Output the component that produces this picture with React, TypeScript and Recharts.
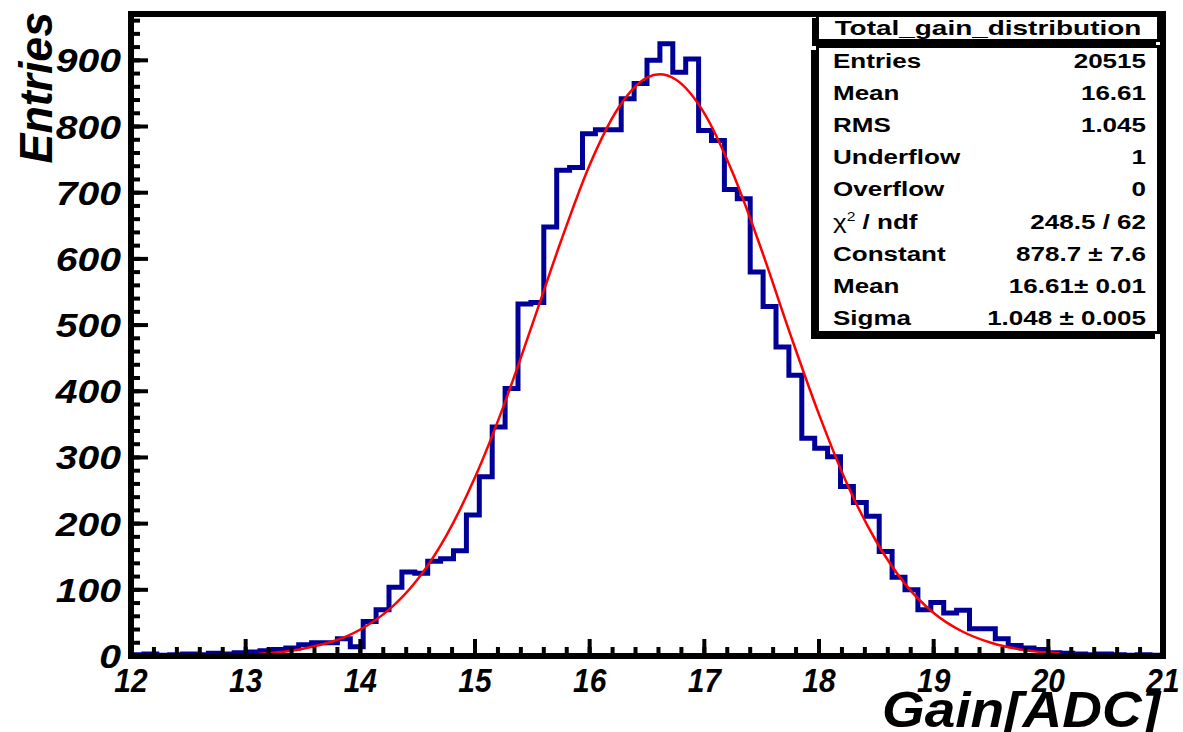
import { ComposedChart, Line, XAxis, YAxis, ReferenceLine } from "recharts";

// Gain histogram (80 bins, 12..21) with Gaussian fit, ROOT-style frame.

const X_MIN = 12;
const X_MAX = 21;
const Y_MAX = 970;
const BIN_WIDTH = 0.1125;

const binCounts = [
  2, 3, 1, 2, 3, 2, 4, 3, 5, 6,
  8, 10, 12, 17, 20, 20, 26, 14, 52, 70,
  104, 127, 125, 143, 147, 159, 213, 271, 346, 404,
  532, 534, 648, 734, 738, 789, 795, 795, 842, 865,
  900, 925, 882, 902, 794, 779, 705, 691, 580, 528,
  467, 424, 329, 314, 301, 256, 232, 211, 158, 119,
  100, 70, 81, 65, 69, 41, 41, 26, 16, 12,
  10, 5, 4, 3, 2, 3, 2, 1, 2, 1,
];

// red fit curve
const fitX = [13.1, 13.5, 14, 14.25, 14.5, 14.75, 15, 15.25, 15.5, 15.75, 16, 16.25, 16.5, 16.61, 16.75, 17, 17.25, 17.5, 17.75, 18, 18.25, 18.5, 18.75, 19, 19.25, 19.5, 19.75, 20.1];
const fitY = [3, 11, 40, 70, 116, 182, 270, 378, 501, 627, 742, 828, 874, 879, 871, 820, 729, 613, 486, 365, 258, 173, 109, 65, 37, 20, 10, 4];

const xMajorLabels = [12, 13, 14, 15, 16, 17, 18, 19, 20, 21];
const yMajorLabels = [0, 100, 200, 300, 400, 500, 600, 700, 800, 900];

const statsTitle = "Total_gain_distribution";
const statsLabels = ["Entries", "Mean", "RMS", "Underflow", "Overflow", "chi2", "Constant", "Mean", "Sigma"];
const statsValues = ["20515", "16.61", "1.045", "1", "0", "248.5 / 62", "878.7 \u00b1 7.6", "16.61\u00b1 0.01", "1.048 \u00b1 0.005"];

const FONT = "'Liberation Sans', Arial, Helvetica, sans-serif";

const histData = binCounts
  .map((v, i) => ({ x: +(X_MIN + i * BIN_WIDTH).toFixed(4), h: v }))
  .concat([{ x: X_MAX, h: binCounts[binCounts.length - 1] }]);
const fitData = fitX.map((x, i) => ({ x, f: fitY[i] }));

// minor ticks every 0.2 on x, every 20 on y
const xTicks: number[] = [];
for (let k = 0; k <= (X_MAX - X_MIN) * 5; k++) xTicks.push(+(X_MIN + k * 0.2).toFixed(1));
const yTicks: number[] = [];
for (let v = 0; v <= 960; v += 20) yTicks.push(v);

const MINOR_TICK = 9;
const MAJOR_TICK = 17;

// axis tick lines (short, inward) come from recharts; majors get an extra long mark here
const XTick = (props: any) => {
  const { x, y, payload } = props;
  const v = payload.value;
  if (!xMajorLabels.includes(v)) return <g />;
  return (
    <g>
      <line x1={x} x2={x} y1={y} y2={y - MAJOR_TICK} stroke="#000" strokeWidth={4} />
      <text
        transform={`translate(${x},${y + 36}) scale(0.88,1)`}
        textAnchor="middle"
        fontSize={34}
        fontWeight="bold"
        fontStyle="italic"
        fontFamily={FONT}
        fill="#000"
      >
        {v}
      </text>
    </g>
  );
};

const YTick = (props: any) => {
  const { x, y, payload } = props;
  const v = payload.value;
  if (!yMajorLabels.includes(v)) return <g />;
  return (
    <g>
      <line x1={x} x2={x + MAJOR_TICK} y1={y} y2={y} stroke="#000" strokeWidth={4} />
      <text
        transform={`translate(${x - 10},${y + 12}) scale(1.15,1)`}
        textAnchor="end"
        fontSize={34}
        fontWeight="bold"
        fontStyle="italic"
        fontFamily={FONT}
        fill="#000"
      >
        {v}
      </text>
    </g>
  );
};

const boxFont: React.CSSProperties = {
  position: "absolute",
  fontFamily: FONT,
  fontWeight: "bold",
  fontSize: 20,
  lineHeight: "20px",
  whiteSpace: "nowrap",
  color: "#000",
};

const StatsBox = () => {
  const left = 816;
  const width = 344;
  const rowBase = 68;
  const rowStep = 32.1;
  return (
    <>
      <div
        style={{
          position: "absolute",
          left,
          top: 14,
          width,
          height: 28,
          boxSizing: "border-box",
          border: "3px solid #000",
          background: "#fff",
          boxShadow: "-4px 4px 0 #000",
        }}
      />
      <div style={{ ...boxFont, fontSize: 21, left, width, top: 18, textAlign: "center", transform: "scaleX(1.33)" }}>
        {statsTitle}
      </div>
      <div
        style={{
          position: "absolute",
          left,
          top: 45,
          width,
          height: 289,
          boxSizing: "border-box",
          border: "3px solid #000",
          background: "#fff",
          boxShadow: "-5px 5px 0 #000",
        }}
      />
      {statsLabels.map((lab, i) => (
        <div
          key={"l" + i}
          style={{ ...boxFont, left: 833, top: rowBase + i * rowStep - 17, transform: "scaleX(1.3)", transformOrigin: "0 0" }}
        >
          {lab === "chi2" ? (
            <>
              <span style={{ fontWeight: "normal" }}>{"\u03c7"}</span>
              <sup style={{ fontSize: 12, fontWeight: "normal", lineHeight: 0 }}>2</sup> / ndf
            </>
          ) : (
            lab
          )}
        </div>
      ))}
      {statsValues.map((val, i) => (
        <div
          key={"v" + i}
          style={{
            ...boxFont,
            left: 0,
            width: 1146,
            textAlign: "right",
            top: rowBase + i * rowStep - 17,
            transform: "scaleX(1.3)",
            transformOrigin: "1146px 0",
          }}
        >
          {val}
        </div>
      ))}
    </>
  );
};

export default function App() {
  return (
    <div style={{ position: "absolute", left: 0, top: 0, width: 1183, height: 732, background: "#fff", overflow: "hidden" }}>
      <ComposedChart width={1183} height={732} margin={{ top: 14, right: 20, left: 0, bottom: 0 }}>
        <XAxis
          dataKey="x"
          type="number"
          domain={[X_MIN, X_MAX]}
          ticks={xTicks}
          interval={0}
          height={76}
          tickLine={{ stroke: "#000", strokeWidth: 4 }}
          axisLine={false}
          tickSize={-MINOR_TICK}
          tickMargin={MINOR_TICK}
          tick={<XTick />}
        />
        <YAxis
          type="number"
          domain={[0, Y_MAX]}
          ticks={yTicks}
          interval={0}
          width={131}
          tickLine={{ stroke: "#000", strokeWidth: 4 }}
          axisLine={false}
          tickSize={-MINOR_TICK}
          tickMargin={MINOR_TICK}
          tick={<YTick />}
        />
        <Line
          data={histData}
          dataKey="h"
          type="stepAfter"
          stroke="#000099"
          strokeWidth={5}
          strokeLinejoin="miter"
          dot={false}
          activeDot={false}
          isAnimationActive={false}
        />
        <Line
          data={fitData}
          dataKey="f"
          type="monotone"
          stroke="#ff0000"
          strokeWidth={2.5}
          dot={false}
          activeDot={false}
          isAnimationActive={false}
        />
        {/* frame */}
        <ReferenceLine y={0} stroke="#000" strokeWidth={6} strokeLinecap="square" ifOverflow="visible" />
        <ReferenceLine y={Y_MAX} stroke="#000" strokeWidth={6} strokeLinecap="square" ifOverflow="visible" />
        <ReferenceLine x={X_MIN} stroke="#000" strokeWidth={6} strokeLinecap="square" ifOverflow="visible" />
        <ReferenceLine x={X_MAX} stroke="#000" strokeWidth={6} strokeLinecap="square" ifOverflow="visible" />
      </ComposedChart>
      <StatsBox />
      <div
        style={{
          position: "absolute",
          left: 52,
          top: 12,
          fontFamily: FONT,
          fontWeight: "bold",
          fontStyle: "italic",
          fontSize: 47,
          lineHeight: "47px",
          whiteSpace: "nowrap",
          transformOrigin: "0 0",
          transform: "rotate(-90deg) scale(0.95,1) translate(-100%, -40px)",
        }}
      >
        Entries
      </div>
      <div
        style={{
          position: "absolute",
          left: 0,
          width: 1160,
          top: 685,
          textAlign: "right",
          fontFamily: FONT,
          fontWeight: "bold",
          fontStyle: "italic",
          fontSize: 50,
          lineHeight: "50px",
          whiteSpace: "nowrap",
          transformOrigin: "1160px 0",
          transform: "scaleX(1.1)",
        }}
      >
        Gain[ADC]
      </div>
    </div>
  );
}
